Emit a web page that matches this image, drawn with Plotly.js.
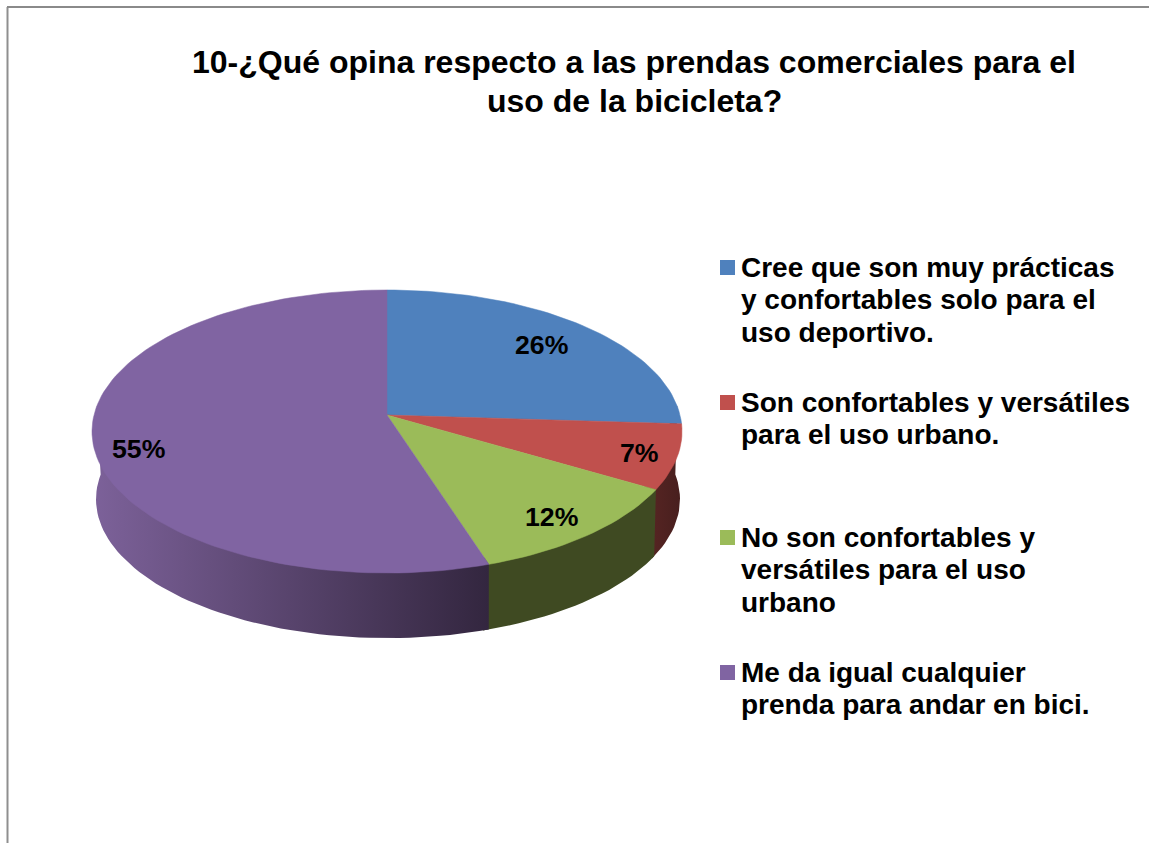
<!DOCTYPE html>
<html>
<head>
<meta charset="utf-8">
<script src="https://cdn.plot.ly/plotly-3.0.1.min.js"></script>
<style>
    html, body { margin: 0; padding: 0; background: #fff; overflow: hidden; }
    #chart { width: 1149px; height: 843px; }
</style>
</head>
<body>
<div id="chart"></div>
<script>
const titleLines = ['10-¿Qué opina respecto a las prendas comerciales para el', 'uso de la bicicleta?'];
const categories = [
    ['Cree que son muy prácticas', 'y confortables solo para el', 'uso deportivo.'],
    ['Son confortables y versátiles', 'para el uso urbano.'],
    ['No son confortables y', 'versátiles para el uso', 'urbano'],
    ['Me da igual cualquier', 'prenda para andar en bici.']
];
const percents = [26, 7.4, 11.6, 55];
const topColors = ['#4f81bd', '#c0504d', '#9bbb59', '#8064a2'];
const wallLeftColors = [null, '#481f1e', '#3f4a22', '#33263f'];
const wallRightColors = [null, '#5a2624', '#3f4a22', '#7c6199'];

// where the percent labels and legend rows sit, in page pixels
const labelX = [541, 639, 551, 138];
const labelY = [345, 453, 517, 449];
const legendFirstLineY = [267, 402, 537, 672];
const legendMarkY = [267.5, 402.5, 537.5, 672.5];
const legendLineGap = 32.5;

// perspective view of the round pie: k pulls the back of the disc closer to the centre
const topDisc = { x0: 387, y0: 415, a: 293, b: 139.6, k: 0.1166 };
const lowDisc = { x0: 388, y0: 483, a: 290, b: 137, k: 0.1166 };
const wallStart = 24, wallEnd = 76;

function project(disc, pct, r = 1) {
    const ang = pct / 100 * 2 * Math.PI;
    const X = r * Math.sin(ang), Y = r * Math.cos(ang);
    const w = 1 + disc.k * Y;
    return [disc.x0 + disc.a * X / w, disc.y0 - disc.b * Y / w];
}

function arc(disc, from, to, r = 1) {
    const pts = [];
    const n = Math.ceil(Math.abs(to - from) * 2) + 1;
    for (let i = 0; i <= n; i++) pts.push(project(disc, from + (to - from) * i / n, r));
    return pts;
}

function polygon(pts, extra) {
    return Object.assign({
        type: 'scatter', mode: 'lines', fill: 'toself',
        x: pts.map(p => p[0]), y: pts.map(p => p[1]),
        line: { width: 0 }, hoverinfo: 'skip', showlegend: false
    }, extra);
}

const traces = [];
let start = 0;
const spans = percents.map(v => { const s = [start, start + v]; start += v; return s; });

// walls go first. The blue wedge shows no wall, its edge is turned away from the viewer
spans.forEach((s, i) => {
    if (i === 0) return;
    // each wall slips a little under the next one so no seam shows between them
    const from = i === 1 ? wallStart : s[0], to = Math.min(s[1] + 0.3, wallEnd);
    // the upper edge runs a bit inside the rim so no white seam is left under the top face
    const pts = [project(topDisc, from)].concat(arc(topDisc, from, to, 0.96), [project(topDisc, to)], arc(lowDisc, to, from));
    traces.push(polygon(pts.concat([pts[0]]), {
        fillcolor: wallRightColors[i],
        fillgradient: { type: 'horizontal', colorscale: [[0, wallRightColors[i]], [1, wallLeftColors[i]]] }
    }));
});

spans.forEach((s, i) => {
    const pts = [[topDisc.x0, topDisc.y0]].concat(arc(topDisc, s[0], s[1]), [[topDisc.x0, topDisc.y0]]);
    traces.push(polygon(pts, { fillcolor: topColors[i], line: { width: 0.5, color: topColors[i] } }));
});

traces.push({
    type: 'scatter', mode: 'markers', x: categories.map(() => 727.5), y: legendMarkY,
    marker: { symbol: 'square', size: 15, color: topColors, line: { width: 0 } },
    hoverinfo: 'skip', showlegend: false
});

const annotations = percents.map((v, i) => ({
    x: labelX[i], y: labelY[i], xref: 'x', yref: 'y', text: '<b>' + Math.round(v) + '%</b>', showarrow: false,
    font: { family: 'Liberation Sans', size: 26.67, color: '#000' }
}));
categories.forEach((lines, i) => lines.forEach((line, j) => annotations.push({
    x: 739, y: legendFirstLineY[i] + j * legendLineGap, xref: 'x', yref: 'y', xanchor: 'left',
    text: '<b>' + line + '</b>', showarrow: false,
    font: { family: 'Liberation Sans', size: 28, color: '#000' }
})));
titleLines.forEach((line, j) => annotations.push({
    x: 634, y: 62 + j * 39, xref: 'x', yref: 'y', text: '<b>' + line + '</b>', showarrow: false,
    font: { family: 'Liberation Sans', size: 32, color: '#000' }
}));

const layout = {
    width: 1149, height: 843,
    margin: { l: 0, r: 0, t: 0, b: 0 },
    paper_bgcolor: '#fff', plot_bgcolor: '#fff',
    xaxis: { range: [0, 1149], visible: false, fixedrange: true },
    yaxis: { range: [843, 0], visible: false, fixedrange: true },
    showlegend: false,
    annotations,
    shapes: [
        { type: 'line', xref: 'x', yref: 'y', x0: 7.5, y0: 7, x1: 7.5, y1: 843, line: { color: '#8f8f8f', width: 2 } },
        { type: 'line', xref: 'x', yref: 'y', x0: 7, y0: 7, x1: 1149, y1: 7, line: { color: '#8a8a8a', width: 2 } }
    ]
};

Plotly.newPlot('chart', traces, layout, { displayModeBar: false, staticPlot: true });
</script>
</body>
</html>
